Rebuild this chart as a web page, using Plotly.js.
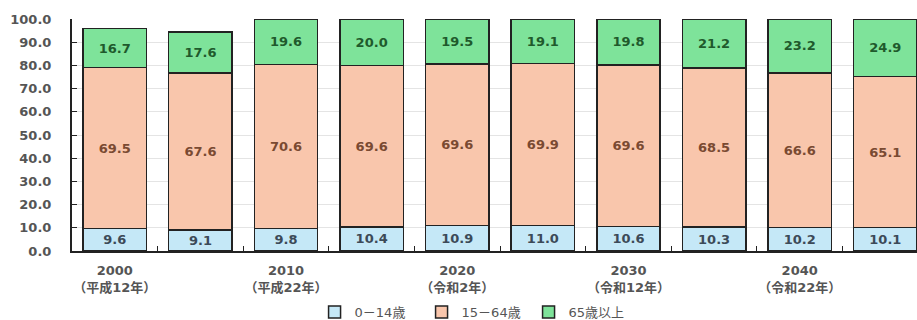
<!DOCTYPE html>
<html><head><meta charset="utf-8">
<script src="https://cdn.plot.ly/plotly-3.0.1.min.js"></script>
<style>html,body{margin:0;padding:0;background:#fff;}#chart{width:917px;height:320px;}</style>
</head><body><div id="chart"></div>
<script>
const years = ["2000","2005","2010","2015","2020","2025","2030","2035","2040","2045"];
const tickLabels = ["2000<br>（平成12年）","","2010<br>（平成22年）","","2020<br>（令和2年）","","2030<br>（令和12年）","","2040<br>（令和22年）",""];
const age0_14 = [9.6, 9.1, 9.8, 10.4, 10.9, 11.0, 10.6, 10.3, 10.2, 10.1];
const age15_64 = [69.5, 67.6, 70.6, 69.6, 69.6, 69.9, 69.6, 68.5, 66.6, 65.1];
const age65 = [16.7, 17.6, 19.6, 20.0, 19.5, 19.1, 19.8, 21.2, 23.2, 24.9];
const seriesNames = ["0－14歳", "15－64歳", "65歳以上"];

const font = "'DejaVu Sans', 'Noto Sans CJK JP', sans-serif";
function mk(name, vals, fill, tcol){
  return {
    type: "bar", x: years, y: vals, name: name,
    marker: {color: fill, line: {color: "#222", width: 1.5}},
    text: vals.map(v => v.toFixed(1)), textposition: "inside", insidetextanchor: "middle",
    textangle: 0, constraintext: "none",
    textfont: {family: font, size: 13, color: tcol, weight: "bold"},
    hoverinfo: "none"
  };
}
const data = [
  mk(seriesNames[0], age0_14, "#C5E8F7", "#3c4a58"),
  mk(seriesNames[1], age15_64, "#F9C6AC", "#7a4a32"),
  mk(seriesNames[2], age65, "#7EE39A", "#1f5a2c")
];
const layout = {
  width: 917, height: 320, barmode: "stack", bargap: 0.26,
  margin: {l: 72, r: 0, t: 19, b: 69},
  paper_bgcolor: "#fff", plot_bgcolor: "#fff",
  font: {family: font, color: "#555"},
  showlegend: true,
  legend: {orientation: "h", x: 0.477, xanchor: "center", xref: "paper", y: 0.025, yanchor: "middle", yref: "container",
    bgcolor: "rgba(0,0,0,0)",
    font: {family: font, size: 13, color: "#555"}, itemwidth: 30, entrywidth: 62, traceorder: "normal"},
  xaxis: {type: "category", range: [-0.5, 9.37], tickmode: "array", tickvals: years, ticktext: tickLabels,
    ticks: "inside", tickson: "boundaries", ticklen: 5, tickcolor: "#222", tickangle: 0, automargin: false,
    showline: true, linecolor: "#222", linewidth: 2, showgrid: false, ticklabelstandoff: 6,
    tickfont: {family: font, size: 13, color: "#555", weight: "bold"}},
  yaxis: {range: [0, 100], dtick: 10, tickformat: ".1f", ticks: "inside", ticklen: 5, tickcolor: "#222", automargin: false,
    showline: true, linecolor: "#222", linewidth: 2, gridcolor: "#e4e4e4", zeroline: false,
    tickfont: {family: font, size: 13, color: "#555", weight: "bold"}, ticklabelstandoff: 16}
};
Plotly.newPlot("chart", data, layout, {displayModeBar: false, staticPlot: true});
</script></body></html>
